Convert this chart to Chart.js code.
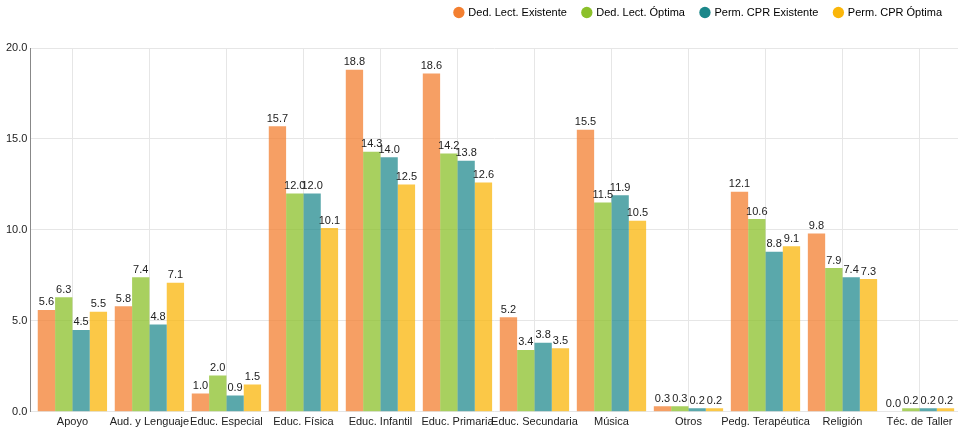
<!DOCTYPE html>
<html>
<head>
<meta charset="utf-8">
<script src="https://cdn.jsdelivr.net/npm/chart.js@4/dist/chart.umd.min.js"></script>
<style>
  html, body { margin: 0; padding: 0; background: #fff; }
  #wrap { width: 961px; height: 431px; }
</style>
</head>
<body>
<div id="wrap"><canvas id="chart"></canvas></div>
<script>
// categorías (especialidades)
const categorias = ['Apoyo', 'Aud. y Lenguaje', 'Educ. Especial', 'Educ. Física', 'Educ. Infantil',
  'Educ. Primaria', 'Educ. Secundaria', 'Música', 'Otros', 'Pedg. Terapéutica', 'Religión', 'Téc. de Taller'];

// series
const dedLectExistente = [5.6, 5.8, 1.0, 15.7, 18.8, 18.6, 5.2, 15.5, 0.3, 12.1, 9.8, 0.0];
const dedLectOptima    = [6.3, 7.4, 2.0, 12.0, 14.3, 14.2, 3.4, 11.5, 0.3, 10.6, 7.9, 0.2];
const permCprExistente = [4.5, 4.8, 0.9, 12.0, 14.0, 13.8, 3.8, 11.9, 0.2, 8.8, 7.4, 0.2];
const permCprOptima    = [5.5, 7.1, 1.5, 10.1, 12.5, 12.6, 3.5, 10.5, 0.2, 9.1, 7.3, 0.2];

const yTicks = [0, 5, 10, 15, 20];

const FONT = '"Liberation Sans", Arial, sans-serif';

// etiquetas de valor encima de cada barra
const valueLabels = {
  id: 'valueLabels',
  afterDatasetsDraw(chart) {
    const ctx = chart.ctx;
    ctx.save();
    ctx.font = '11px ' + FONT;
    ctx.fillStyle = '#222';
    ctx.textAlign = 'center';
    ctx.textBaseline = 'bottom';
    chart.data.datasets.forEach((ds, i) => {
      chart.getDatasetMeta(i).data.forEach((bar, j) => {
        ctx.fillText(ds.data[j].toFixed(1), bar.x, bar.y - 2);
      });
    });
    ctx.restore();
  }
};

// más espacio debajo de la leyenda
const legendSpace = {
  id: 'legendSpace',
  beforeInit(chart) {
    const fit = chart.legend.fit;
    chart.legend.fit = function () {
      fit.bind(chart.legend)();
      this.height += 20;
    };
  },
  // pequeño hueco entre el eje Y y la primera categoría
  afterLayout(chart) {
    const x = chart.scales.x;
    x._startPixel += 3.5;
    x._length -= 3.5;
  }
};

new Chart(document.getElementById('chart'), {
  type: 'bar',
  data: {
    labels: categorias,
    datasets: [
      { label: 'Ded. Lect. Existente', data: dedLectExistente, backgroundColor: 'rgba(243,127,48,0.75)', borderWidth: 0 },
      { label: 'Ded. Lect. Óptima', data: dedLectOptima, backgroundColor: 'rgba(139,192,42,0.75)', borderWidth: 0 },
      { label: 'Perm. CPR Existente', data: permCprExistente, backgroundColor: 'rgba(27,135,138,0.72)', borderWidth: 0 },
      { label: 'Perm. CPR Óptima', data: permCprOptima, backgroundColor: 'rgba(250,182,10,0.75)', borderWidth: 0 }
    ]
  },
  options: {
    responsive: true,
    maintainAspectRatio: false,
    animation: false,
    layout: { padding: { left: 3, right: 3, top: -9, bottom: -2 } },
    datasets: { bar: { categoryPercentage: 0.9, barPercentage: 1.0 } },
    plugins: {
      legend: {
        position: 'top',
        align: 'end',
        labels: {
          usePointStyle: true,
          pointStyle: 'circle',
          boxWidth: 8,
          boxHeight: 8,
          padding: 16,
          color: '#333',
          font: { family: FONT, size: 11 },
          generateLabels(chart) {
            const solid = ['#f37f30', '#8bc02a', '#1b878a', '#fab60a'];
            return chart.data.datasets.map((ds, i) => ({
              text: ds.label, fillStyle: solid[i], strokeStyle: solid[i], lineWidth: 0,
              pointStyle: 'circle', datasetIndex: i, hidden: !chart.isDatasetVisible(i)
            }));
          }
        }
      },
      tooltip: { enabled: false }
    },
    scales: {
      x: {
        grid: { color: '#e6e6e6', offset: false, drawTicks: false },
        border: { display: false },
        ticks: { color: '#222', padding: 4, autoSkip: false, maxRotation: 0,
          font: { family: FONT, size: 11 } }
      },
      y: {
        min: 0, max: 20,
        afterBuildTicks(axis) { axis.ticks = yTicks.map(v => ({ value: v })); },
        grid: { color: '#e6e6e6', drawTicks: false },
        border: { display: true, color: '#888', width: 1 },
        ticks: { color: '#222', padding: 3,
          callback: v => Number(v).toFixed(1),
          font: { family: FONT, size: 11 } }
      }
    }
  },
  plugins: [valueLabels, legendSpace]
});
</script>
</body>
</html>
